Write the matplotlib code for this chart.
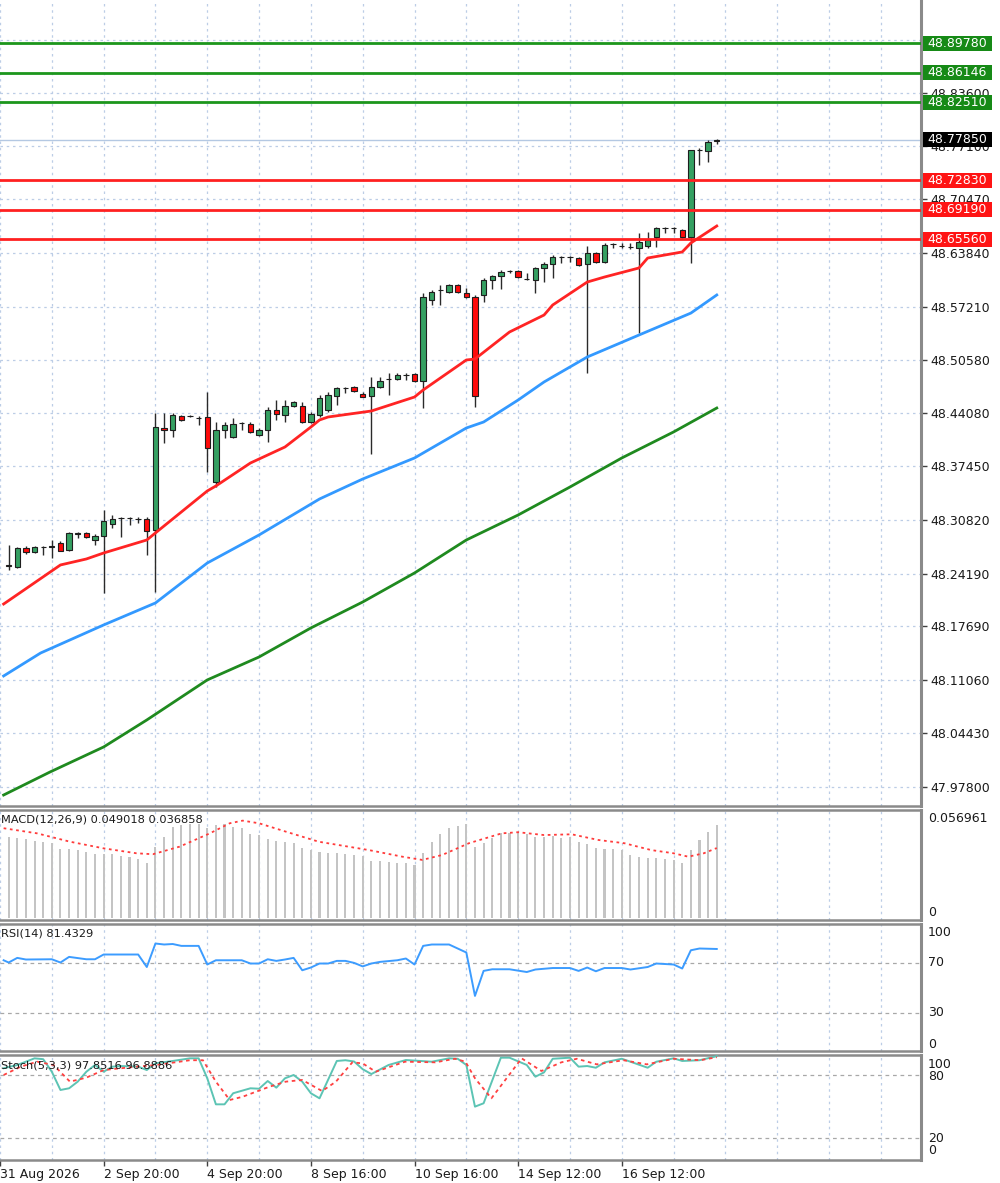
import matplotlib
matplotlib.use('Agg')
import matplotlib.pyplot as plt
import matplotlib.transforms as mtransforms
from matplotlib.patches import Rectangle
import numpy as np

plt.rcParams['font.family'] = ['DejaVu Sans']

# ---------------- data ----------------
opens = [
    48.2526, 48.2501, 48.2736, 48.2687, 48.2748, 48.2748, 48.2798, 48.2712, 48.2909, 48.2922,
    48.2835, 48.2885, 48.3033, 48.3107, 48.3107, 48.3095, 48.3095, 48.2959, 48.4220, 48.4195,
    48.4368, 48.4368, 48.4344, 48.4356, 48.3552, 48.4195, 48.4109, 48.4282, 48.4269, 48.4133,
    48.4195, 48.4443, 48.4381, 48.4492, 48.4492, 48.4294, 48.4381, 48.4443, 48.4616, 48.4715,
    48.4727, 48.4640, 48.4616, 48.4727, 48.4826, 48.4826, 48.4875, 48.4888, 48.4801, 48.5803,
    48.5927, 48.5902, 48.5989, 48.5889, 48.5840, 48.5865, 48.6050, 48.6100, 48.6162, 48.6162,
    48.6063, 48.6050, 48.6199, 48.6248, 48.6335, 48.6335, 48.6322, 48.6248, 48.6384, 48.6273,
    48.6495, 48.6471, 48.6458, 48.6446, 48.6471, 48.6582, 48.6693, 48.6693, 48.6669, 48.6582,
    48.7658, 48.7646, 48.7770]
highs = [
    48.2773, 48.2748, 48.2761, 48.2761, 48.2761, 48.2835, 48.2823, 48.2934, 48.2934, 48.2934,
    48.2909, 48.3206, 48.3144, 48.3120, 48.3120, 48.3120, 48.3120, 48.4405, 48.4405, 48.4405,
    48.4381, 48.4381, 48.4368, 48.4665, 48.4294, 48.4294, 48.4344, 48.4294, 48.4294, 48.4220,
    48.4479, 48.4566, 48.4566, 48.4554, 48.4541, 48.4418, 48.4628, 48.4665, 48.4727, 48.4727,
    48.4739, 48.4665, 48.4851, 48.4851, 48.4900, 48.4900, 48.4900, 48.4900, 48.5889, 48.5927,
    48.5989, 48.6001, 48.6001, 48.5952, 48.5865, 48.6075, 48.6112, 48.6174, 48.6174, 48.6174,
    48.6137, 48.6211, 48.6273, 48.6359, 48.6347, 48.6347, 48.6335, 48.6471, 48.6397, 48.6508,
    48.6508, 48.6508, 48.6508, 48.6632, 48.6644, 48.6706, 48.6706, 48.6706, 48.6681, 48.7658,
    48.7683, 48.7782, 48.7795]
lows = [
    48.2464, 48.2489, 48.2662, 48.2675, 48.2650, 48.2613, 48.2699, 48.2699, 48.2860, 48.2860,
    48.2773, 48.2180, 48.2984, 48.2872, 48.3021, 48.3046, 48.2650, 48.2192, 48.4035, 48.4109,
    48.4307, 48.4356, 48.4257, 48.3676, 48.3491, 48.4096, 48.4096, 48.4195, 48.4158, 48.4121,
    48.4047, 48.4319, 48.4294, 48.4479, 48.4282, 48.4282, 48.4356, 48.4418, 48.4504, 48.4653,
    48.4665, 48.4603, 48.3899, 48.4715, 48.4628, 48.4814, 48.4814, 48.4789, 48.4467, 48.5741,
    48.5741, 48.5889, 48.5889, 48.5828, 48.4479, 48.5778, 48.5939, 48.5939, 48.6137, 48.6075,
    48.6050, 48.5889, 48.6025, 48.6075, 48.6261, 48.6273, 48.6224, 48.4900, 48.6261, 48.6261,
    48.6446, 48.6446, 48.6434, 48.5395, 48.6446, 48.6458, 48.6632, 48.6632, 48.6570, 48.6261,
    48.7472, 48.7510, 48.7733]
closes = [
    48.2514, 48.2736, 48.2687, 48.2748, 48.2749, 48.2761, 48.2699, 48.2922, 48.2922, 48.2872,
    48.2885, 48.3070, 48.3095, 48.3108, 48.3108, 48.3096, 48.2947, 48.4232, 48.4195, 48.4381,
    48.4319, 48.4369, 48.4345, 48.3973, 48.4195, 48.4257, 48.4269, 48.4283, 48.4171, 48.4195,
    48.4443, 48.4393, 48.4492, 48.4541, 48.4294, 48.4393, 48.4591, 48.4628, 48.4715, 48.4716,
    48.4677, 48.4603, 48.4727, 48.4801, 48.4827, 48.4875, 48.4876, 48.4801, 48.5840, 48.5902,
    48.5928, 48.5989, 48.5902, 48.5840, 48.4616, 48.6050, 48.6100, 48.6149, 48.6163, 48.6087,
    48.6064, 48.6199, 48.6248, 48.6335, 48.6336, 48.6336, 48.6236, 48.6384, 48.6273, 48.6483,
    48.6496, 48.6472, 48.6459, 48.6520, 48.6545, 48.6693, 48.6694, 48.6694, 48.6582, 48.7658,
    48.7659, 48.7757, 48.7785]

ma_fast_idx = [-0.58, 6, 9, 11, 16, 17, 23, 24, 28, 32, 35, 36, 37, 42, 47, 48, 53, 54, 58,
               62, 63, 67, 69, 73, 74, 78, 79, 82]
ma_fast = [48.2043, 48.2526, 48.2600, 48.2674, 48.2835, 48.2922, 48.3441, 48.3503, 48.3787,
           48.3985, 48.4232, 48.4319, 48.4356, 48.4430, 48.4603, 48.4690, 48.5061, 48.5073,
           48.5407, 48.5617, 48.5741, 48.6025, 48.6087, 48.6199, 48.6322, 48.6397, 48.6508,
           48.6718]
ma_mid_idx = [-0.58, 3.7, 11, 17, 23, 29, 36, 41, 47, 53, 55, 59, 62, 67, 73, 79, 82]
ma_mid = [48.1153, 48.1437, 48.1784, 48.2056, 48.2550, 48.2897, 48.3342, 48.3589, 48.3849,
          48.4220, 48.4294, 48.4566, 48.4789, 48.5098, 48.5370, 48.5641, 48.5865]
ma_slow_idx = [-0.58, 4.8, 11, 16, 23, 29, 35, 41, 47, 53, 59, 65, 71, 77, 82]
ma_slow = [47.9681, 47.9966, 48.0275, 48.0609, 48.1104, 48.1388, 48.1747, 48.2068, 48.2427,
           48.2835, 48.3144, 48.3490, 48.3849, 48.4171, 48.4467]

resistance_levels = [48.89780, 48.86146, 48.82510]
support_levels = [48.72830, 48.69190, 48.65560]
last_price = 48.77850

price_ticks = [47.97800, 48.04430, 48.11060, 48.17690, 48.24190, 48.30820, 48.37450,
               48.44080, 48.50580, 48.57210, 48.63840, 48.70470, 48.77100, 48.83600, 48.90230]

macd_hist = [
    0.0428, 0.0423, 0.0416, 0.0406, 0.0399, 0.0394, 0.0364, 0.0362, 0.0358, 0.0346,
    0.0337, 0.0336, 0.0336, 0.0327, 0.0320, 0.0311, 0.0292, 0.0376, 0.0428, 0.0481,
    0.0490, 0.0495, 0.0494, 0.0473, 0.0490, 0.0495, 0.0481, 0.0473, 0.0443, 0.0437,
    0.0415, 0.0406, 0.0402, 0.0394, 0.0371, 0.0358, 0.0346, 0.0341, 0.0341, 0.0336,
    0.0332, 0.0327, 0.0300, 0.0300, 0.0297, 0.0292, 0.0288, 0.0279, 0.0341, 0.0399,
    0.0441, 0.0473, 0.0487, 0.0495, 0.0376, 0.0397, 0.0420, 0.0446, 0.0446, 0.0452,
    0.0441, 0.0428, 0.0428, 0.0432, 0.0423, 0.0428, 0.0399, 0.0388, 0.0371, 0.0364,
    0.0362, 0.0358, 0.0332, 0.0323, 0.0315, 0.0315, 0.0309, 0.0306, 0.0288, 0.0358,
    0.0411, 0.0452, 0.0490]
macd_sig_idx = [-0.58, 3.3, 7.1, 11, 14.8, 16.7, 19.8, 23.3, 25.6, 27.1, 29, 32.1, 35.9, 41.7,
                45.6, 47.9, 50.2, 53.3, 57.1, 59, 62, 65.2, 68.3, 71.3, 74.4, 77, 78.7, 80.5, 82]
macd_sig = [0.0473, 0.0446, 0.0402, 0.0367, 0.0341, 0.0336, 0.0376, 0.0446, 0.0499, 0.0513,
            0.0499, 0.0455, 0.0402, 0.0358, 0.0323, 0.0306, 0.0332, 0.0394, 0.0446, 0.0452,
            0.0437, 0.0441, 0.0411, 0.0394, 0.0358, 0.0341, 0.0323, 0.0341, 0.036858]

rsi_idx = [-0.58, 0, 1, 2, 5, 6, 7, 9, 10, 11, 15, 16, 17, 18, 19, 20, 22, 23, 24, 27, 28, 29,
           30, 31, 32, 33, 34, 35, 36, 37, 38, 39, 40, 41, 42, 43, 45, 46, 47, 48, 49, 51, 52,
           53, 54, 55, 56, 58, 60, 61, 63, 65, 66, 67, 68, 69, 71, 72, 74, 75, 77, 78, 79, 80, 82]
rsi = [72.4, 70.6, 74.3, 73.0, 73.2, 70.6, 75.1, 73.2, 73.2, 77.0, 77.0, 67.0, 85.8, 85.0, 85.4,
       83.9, 83.9, 69.0, 72.4, 72.4, 69.8, 69.8, 73.2, 71.9, 73.0, 74.3, 64.4, 66.6, 69.8, 69.8,
       71.9, 71.9, 70.3, 67.5, 69.8, 71.1, 72.4, 73.8, 69.0, 83.9, 85.0, 85.0, 81.8, 78.6, 43.9,
       63.9, 65.2, 65.2, 63.0, 65.0, 66.2, 66.2, 63.9, 66.6, 63.6, 66.2, 66.2, 65.0, 67.0, 69.8,
       69.0, 65.8, 80.4, 81.8, 81.43]

stoch_idx = [-0.58, 1, 3, 4, 5, 6, 7, 8, 9, 10, 11, 12, 13, 15, 16, 17, 19, 21, 22, 23, 24, 25,
             26, 28, 29, 30, 31, 32, 33, 34, 35, 36, 38, 39, 40, 41, 42, 44, 46, 49, 51, 52, 53,
             54, 55, 57, 58, 60, 61, 62, 63, 65, 66, 67, 68, 69, 71, 72, 74, 75, 77, 78, 80, 82]
stoch_main = [86.4, 89.5, 95.8, 95.0, 83.1, 65.8, 67.4, 73.7, 83.1, 89.5, 83.1, 87.9, 88.5,
              87.9, 84.7, 91.1, 93.3, 95.8, 95.8, 76.9, 52.2, 52.2, 62.7, 67.4, 67.0, 74.3,
              68.0, 76.9, 80.0, 73.7, 62.7, 57.9, 93.3, 94.0, 92.8, 85.5, 80.9, 89.5, 94.2,
              92.6, 95.8, 95.4, 89.5, 50.0, 53.2, 96.4, 96.4, 89.5, 78.4, 82.5, 95.4, 96.4,
              87.9, 88.5, 86.9, 92.0, 95.4, 92.6, 86.9, 92.6, 95.8, 93.3, 94.0, 97.85]
stoch_sig_idx = [-0.58, 1.4, 3.3, 5.2, 7.1, 9, 11, 14.8, 17.1, 21, 22.5, 24, 25.6, 27.1, 30.2,
                 32.1, 34, 36.3, 37.9, 39.8, 41, 42.5, 45.9, 49.4, 51.7, 52.9, 54, 55.9, 57.8,
                 59.4, 61.7, 64, 65.8, 68.1, 71.2, 73.9, 77, 80.1, 82]
stoch_sig = [80.0, 87.9, 92.6, 89.5, 73.7, 77.5, 84.7, 87.9, 89.5, 94.0, 94.0, 73.7, 56.3,
             59.4, 68.9, 73.7, 75.3, 64.8, 73.7, 92.0, 91.0, 83.1, 92.6, 92.0, 95.4, 92.6,
             76.9, 57.9, 78.4, 95.8, 83.8, 92.0, 95.4, 90.1, 94.0, 90.1, 95.4, 94.0, 96.89]

date_tick_idx = [-1, 11, 23, 35, 47, 59, 71]
date_labels = ['31 Aug 2026', '2 Sep 20:00', '4 Sep 20:00', '8 Sep 16:00',
               '10 Sep 16:00', '14 Sep 12:00', '16 Sep 12:00']

# ---------------- layout ----------------
W, H = 1000, 1183
fig = plt.figure(figsize=(W / 100, H / 100), dpi=100)
fig.patch.set_facecolor('white')


def rect(x0, y0, x1, y1):
    return [x0 / W, 1 - y1 / H, (x1 - x0) / W, (y1 - y0) / H]


def ftext(x, y, s, **kw):
    fig.text(x / W, 1 - y / H, s, **kw)


XL = (-0.577, 105.65)
grid_kw = dict(color='#bccde6', linestyle=(0, (2, 3)), linewidth=0.9)
minor_x = [v for v in range(-1, 106, 6) if v not in date_tick_idx]
SP = '#8a8a8a'
TXT = '#1a1a1a'

ax = fig.add_axes(rect(0, 0, 921, 806))
ax2 = fig.add_axes(rect(0, 810, 921, 920), sharex=ax)
ax3 = fig.add_axes(rect(0, 924, 921, 1051), sharex=ax)
ax4 = fig.add_axes(rect(0, 1055, 921, 1160), sharex=ax)

for a in (ax, ax2, ax3, ax4):
    a.set_xlim(*XL)
    a.spines['left'].set_visible(False)
    a.spines['right'].set_color(SP)
    a.spines['right'].set_linewidth(2.2)
    a.spines['top'].set_color(SP)
    a.spines['top'].set_linewidth(1.8)
    a.spines['bottom'].set_color(SP)
    a.spines['bottom'].set_linewidth(1.8)
    a.set_xticks(date_tick_idx)
    a.set_xticks(minor_x, minor=True)
    a.grid(axis='x', which='both', **grid_kw)
    a.tick_params(axis='x', which='both', length=0, labelbottom=False)
    a.set_axisbelow(True)
ax.spines['top'].set_visible(False)

# main price panel
ax.set_ylim(47.9545, 48.9513)
ax.yaxis.tick_right()
ax.set_yticks(price_ticks)
ax.set_yticklabels([f'{v:.5f}' for v in price_ticks])
ax.tick_params(axis='y', length=4, width=1, color='#404040', pad=3, labelsize=9,
               labelcolor=TXT)
ax.grid(axis='y', **grid_kw)

idx = np.arange(len(opens))
o = np.array(opens); c = np.array(closes)
up = c >= o
ax.vlines(idx, lows, highs, color='#2a2a2a', linewidth=1.0, zorder=3)
body_bottom = np.minimum(o, c)
body_h = np.maximum(np.abs(c - o), 0.00008)
ax.bar(idx, body_h, bottom=body_bottom, width=0.62,
       color=np.where(up, '#35a062', '#ff0a0a'), edgecolor='#1e1e1e', linewidth=0.8, zorder=4)

ax.plot(ma_slow_idx, ma_slow, color='#1f8a1f', linewidth=2.0, zorder=5)
ax.plot(ma_mid_idx, ma_mid, color='#3399ff', linewidth=2.0, zorder=5)
ax.plot(ma_fast_idx, ma_fast, color='#ff2424', linewidth=2.0, zorder=5)

ax.axhline(last_price, color='#b4c8e2', linewidth=1.0, zorder=2)
for lv in resistance_levels:
    ax.axhline(lv, color='#1c961c', linewidth=2.0, zorder=5)
for lv in support_levels:
    ax.axhline(lv, color='#ff2020', linewidth=2.0, zorder=5)

blend = mtransforms.blended_transform_factory(ax.transAxes, ax.transData)
box_h = 15 * (48.9513 - 47.9545) / 806
for lv, col in ([(v, '#168a16') for v in resistance_levels] +
                [(v, '#ff1414') for v in support_levels] + [(last_price, '#000000')]):
    ax.add_patch(Rectangle((923 / 921, lv - box_h / 2), 69 / 921, box_h, transform=blend,
                           facecolor=col, edgecolor='none', clip_on=False, zorder=8))
    ax.text(927.5 / 921, lv, f'{lv:.5f}', transform=blend, ha='left', va='center',
            fontsize=9, color='white', clip_on=False, zorder=9)

# MACD panel
ax2.set_ylim(-0.00105, 0.0569)
ax2.set_yticks([])
ax2.bar(idx, macd_hist, width=0.24, color='#c4c4c4', zorder=2)
ax2.plot(macd_sig_idx, macd_sig, color='#ff3b3b', linewidth=1.3, linestyle=(0, (1.5, 2)),
         zorder=3)

# RSI panel
ax3.set_ylim(-0.16, 101.4)
ax3.set_yticks([])
for lv in (70, 30):
    ax3.axhline(lv, color='#a8a8a8', linewidth=0.9, linestyle=(0, (3, 3)), zorder=1)
ax3.plot(rsi_idx, rsi, color='#3c9cff', linewidth=1.4, zorder=3)

# Stochastic panel
ax4.set_ylim(-0.57, 98.96)
ax4.set_yticks([])
for lv in (80, 20):
    ax4.axhline(lv, color='#a8a8a8', linewidth=0.9, linestyle=(0, (3, 3)), zorder=1)
ax4.plot(stoch_idx, stoch_main, color='#5cc4b4', linewidth=1.4, zorder=3)
ax4.plot(stoch_sig_idx, stoch_sig, color='#ff4040', linewidth=1.3, linestyle=(0, (2, 2)),
         zorder=3)
ax4.tick_params(axis='x', which='major', length=4, width=1, color='#404040',
                labelbottom=True, labelsize=9, labelcolor=TXT, pad=2)
ax4.set_xticklabels(date_labels)
for lab in ax4.get_xticklabels():
    lab.set_ha('left')

# panel titles
ftext(1, 820, 'MACD(12,26,9) 0.049018 0.036858', fontsize=8.2, color=TXT, va='center', zorder=10)
ftext(1, 934, 'RSI(14) 81.4329', fontsize=8.2, color=TXT, va='center', zorder=10)
ftext(1, 1066, 'Stoch(5,3,3) 97.8516 96.8886', fontsize=8.2, color=TXT, va='center', zorder=10)

# indicator scale labels
for s, y in [('0.056961', 819), ('0', 912)]:
    ftext(928, y, s, fontsize=9, color=TXT, va='center')
for s, y in [('100', 933), ('70', 963), ('30', 1013), ('0', 1044)]:
    ftext(928, y, s, fontsize=9, color=TXT, va='center')
for s, y in [('100', 1065), ('80', 1076), ('20', 1138), ('0', 1150)]:
    ftext(928, y, s, fontsize=9, color=TXT, va='center')

fig.savefig('out.png', dpi=100, facecolor='white')
